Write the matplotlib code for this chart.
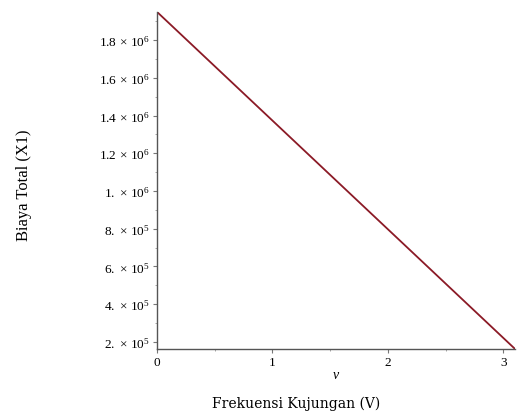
import numpy as np
import matplotlib
matplotlib.use('Agg')
import matplotlib.pyplot as plt
from matplotlib.ticker import MultipleLocator, FixedLocator

plt.rcParams['font.family'] = 'Liberation Serif'
plt.rcParams['mathtext.fontset'] = 'custom'
plt.rcParams['mathtext.rm'] = 'Liberation Serif'
plt.rcParams['mathtext.it'] = 'Liberation Serif:italic'

# data: total cost against visit frequency
v = [0.0, 3.1]
x1 = [1.95e6, 1.63e5]

yticks = [2e5, 4e5, 6e5, 8e5, 1e6, 1.2e6, 1.4e6, 1.6e6, 1.8e6]
ylabels = [r'$2.\,\times\,10^{5}$', r'$4.\,\times\,10^{5}$', r'$6.\,\times\,10^{5}$',
           r'$8.\,\times\,10^{5}$', r'$1.\,\times\,10^{6}$', r'$1.2\,\times\,10^{6}$',
           r'$1.4\,\times\,10^{6}$', r'$1.6\,\times\,10^{6}$', r'$1.8\,\times\,10^{6}$']
xticks = [0, 1, 2, 3]

fig = plt.figure(figsize=(5.18, 4.14), dpi=100)
ax = fig.add_axes([0.303, 0.155, 0.691, 0.814])

ax.plot(v, x1, color='#8b1a26', lw=1.3)

ax.set_xlim(0, 3.1)
ax.set_ylim(1.63e5, 1.95e6)

ax.xaxis.set_major_locator(FixedLocator(xticks))
ax.xaxis.set_minor_locator(MultipleLocator(0.5))
ax.set_xticklabels([str(t) for t in xticks])
ax.yaxis.set_major_locator(FixedLocator(yticks))
ax.yaxis.set_minor_locator(MultipleLocator(1e5))
ax.set_yticklabels(ylabels)

for s in ['top', 'right']:
    ax.spines[s].set_visible(False)
for s in ['left', 'bottom']:
    ax.spines[s].set_color('#555555')
    ax.spines[s].set_linewidth(1.0)

ax.tick_params(which='major', length=3, width=0.8, color='#777777', labelsize=9.5, pad=2)
ax.tick_params(which='minor', length=1.5, width=0.6, color='#999999')

ax.set_xlabel('$v$', fontsize=10, labelpad=0)
fig.text(0.572, 0.024, 'Frekuensi Kujungan (V)', fontsize=10, family='DejaVu Serif',
         ha='center', va='center')
fig.text(0.046, 0.553, 'Biaya Total (X1)', fontsize=11.9, rotation=90, ha='center', va='center')

fig.savefig('out.png', dpi=100)
